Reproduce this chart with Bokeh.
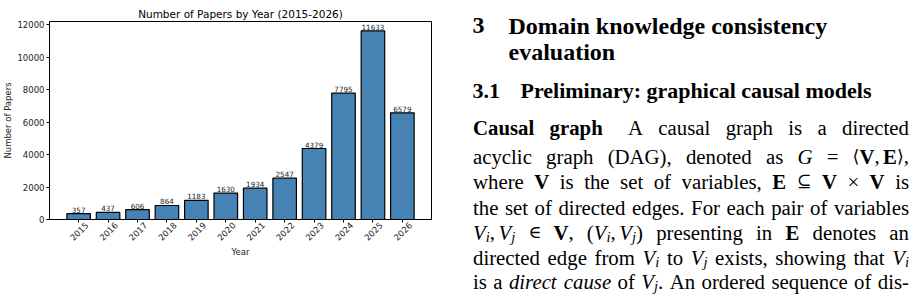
from math import pi
from bokeh.plotting import figure
from bokeh.models import Range1d, FixedTicker, ColumnDataSource, LabelSet, LinearAxis
from bokeh.layouts import row
from bokeh.core.properties import value
from bokeh.embed import file_html
from bokeh.resources import INLINE

# ---------------- data ----------------
years = [2015, 2016, 2017, 2018, 2019, 2020, 2021, 2022, 2023, 2024, 2025, 2026]
papers = [357, 437, 606, 864, 1183, 1630, 1934, 2547, 4379, 7795, 11633, 6579]
y_ticks = [0, 2000, 4000, 6000, 8000, 10000, 12000]
chart_title = "Number of Papers by Year (2015-2026)"
x_label = "Year"
y_label = "Number of Papers"

# text of the paper page beside the chart
section_num = "3"
section_lines = ["Domain knowledge consistency", "evaluation"]
subsection_num = "3.1"
subsection_title = "Preliminary: graphical causal models"
body_lines = [
    [[("Causal", "b")], [("graph", "b")], "QUAD", "A causal graph is a directed"],
    ["acyclic graph (DAG), denoted as", [("G", "i")], [("=", "n")],
     [("⟨", "m"), ("V", "b"), (",", "n"), ("E", "b", 3.5), ("⟩", "m"), (",", "n")]],
    ["where", [("V", "b")], "is the set of variables,", [("E", "b")], [("⊆", "m")],
     [("V", "b")], [("×", "n")], [("V", "b")], "is"],
    ["the set of directed edges. For each pair of variables"],
    [[("V", "i"), ("i", "s"), (",", "n"), ("V", "i", 3.5), ("j", "s")], [("∈", "m")],
     [("V", "b"), (",", "n")],
     [("(", "n"), ("V", "i"), ("i", "s"), (",", "n"), ("V", "i", 3.5), ("j", "s"), (")", "n")],
     "presenting in", [("E", "b")], "denotes an"],
    ["directed edge from", [("V", "i"), ("i", "s")], "to", [("V", "i"), ("j", "s")],
     "exists, showing that", [("V", "i"), ("i", "s")]],
    ["is a", [("direct", "i")], [("cause", "i")], "of", [("V", "i"), ("j", "s"), (".", "n")],
     "An ordered sequence of dis-"],
]

# ---------------- chart ----------------
src = ColumnDataSource(dict(year=years, papers=papers,
                            label=[str(v) for v in papers]))

x_start, x_end = min(years) - 0.99, max(years) + 0.99
p = figure(width=455, height=295, output_backend="svg", toolbar_location=None,
           x_range=Range1d(x_start, x_end),
           y_range=Range1d(0, max(papers) * 1.05),
           min_border_left=49, min_border_right=24, min_border_top=21, min_border_bottom=76,
           title=chart_title)
p.frame_align = False
p.background_fill_color = "white"
p.border_fill_color = "white"
p.outline_line_color = "black"
p.outline_line_width = 1
p.xgrid.visible = False
p.ygrid.visible = False

p.title.align = "center"
p.title.text_font = "DejaVu Sans"
p.title.text_font_size = "10.5px"
p.title.text_font_style = "normal"
p.title.text_color = "black"
p.title.standoff = 4

p.vbar(x="year", top="papers", width=0.8, source=src,
       fill_color="#4682B4", line_color="black", line_width=1.2)

p.add_layout(LabelSet(x="year", y="papers", text="label", source=src,
                      text_align="center", text_baseline="bottom", y_offset=1,
                      text_font=value("DejaVu Sans"), text_font_size=value("7.2px"),
                      text_color="#222222"))


def style_axis(ax):
    ax.axis_line_color = "black"
    ax.major_tick_line_color = "black"
    ax.minor_tick_line_color = None
    ax.major_tick_in = 0
    ax.major_tick_out = 3
    ax.major_label_text_font = "DejaVu Sans"
    ax.major_label_text_font_size = "8.5px"
    ax.major_label_text_color = "#222222"
    ax.axis_label_text_font = "DejaVu Sans"
    ax.axis_label_text_font_size = "8.5px"
    ax.axis_label_text_font_style = "normal"
    ax.axis_label_text_color = "#222222"


for ax in (p.xaxis[0], p.yaxis[0]):
    style_axis(ax)

p.yaxis.ticker = FixedTicker(ticks=y_ticks)
p.yaxis.major_label_standoff = 2
p.yaxis.axis_label = y_label
p.yaxis.axis_label_standoff = 1

# tick marks on the main x axis (labels drawn by a second, label-only axis)
p.xaxis.ticker = FixedTicker(ticks=years)
p.xaxis.major_label_overrides = {y: "" for y in years}
p.xaxis.major_label_standoff = 0

shift = 0.27  # centre the rotated labels under their ticks
p.extra_x_ranges = {"lab": Range1d(x_start - shift, x_end - shift)}
lab_axis = LinearAxis(x_range_name="lab", ticker=FixedTicker(ticks=years))
style_axis(lab_axis)
lab_axis.axis_line_color = None
lab_axis.major_tick_line_color = None
lab_axis.major_tick_out = 0
lab_axis.major_label_orientation = pi / 4
lab_axis.major_label_standoff = 1
lab_axis.axis_label = x_label
lab_axis.axis_label_standoff = 0
p.add_layout(lab_axis, "below")

# ---------------- text page ----------------
q = figure(width=462, height=295, output_backend="svg", toolbar_location=None,
           x_range=Range1d(455, 917), y_range=Range1d(295, 0),
           x_axis_type=None, y_axis_type=None, min_border=0)
q.frame_align = False
q.grid.visible = False
q.outline_line_color = None
q.background_fill_color = "white"
q.border_fill_color = "white"

BODY = 20.8
STYLES = {
    "n": ("Liberation Serif", "normal", BODY, 0),
    "b": ("Liberation Serif", "bold", BODY, 0),
    "i": ("Liberation Serif", "italic", BODY, 0),
    "s": ("Liberation Serif", "italic", 14.6, 4.5),
    "m": ("DejaVu Serif", "normal", 17.5, 0),
}
REG = {' ': 250, 'a': 444, 'b': 500, 'c': 444, 'd': 500, 'e': 444, 'f': 333, 'g': 500, 'h': 500,
       'i': 278, 'j': 278, 'k': 500, 'l': 278, 'm': 778, 'n': 500, 'o': 500, 'p': 500, 'q': 500,
       'r': 333, 's': 389, 't': 278, 'u': 500, 'v': 500, 'w': 722, 'x': 500, 'y': 500, 'z': 444,
       'A': 722, 'C': 667, 'D': 722, 'E': 611, 'F': 556, 'G': 722, 'V': 722, '(': 333, ')': 333,
       ',': 250, '.': 250, '-': 333, '=': 564, ':': 278, '×': 564}
BOLD = {' ': 250, 'a': 500, 'b': 556, 'c': 444, 'd': 556, 'e': 444, 'f': 333, 'g': 500, 'h': 556,
        'i': 278, 'k': 556, 'l': 278, 'm': 833, 'n': 556, 'o': 500, 'p': 556, 'r': 444, 's': 389,
        't': 333, 'u': 556, 'v': 500, 'w': 722, 'y': 500, 'C': 722, 'D': 722, 'E': 667, 'P': 611,
        'V': 722, ':': 333, '.': 250, '1': 500, '3': 500}
ITAL = {' ': 250, 'a': 500, 'c': 444, 'd': 500, 'e': 444, 'i': 278, 'j': 278, 'r': 389, 's': 389,
        't': 278, 'u': 500, 'G': 722, 'V': 611}
SYM = {'∈': 670, '⊆': 840, '⟨': 390, '⟩': 390}
TABLES = {"n": REG, "b": BOLD, "i": ITAL, "s": ITAL, "m": SYM}


def run_width(text, style):
    size = STYLES[style][2]
    tab = TABLES[style]
    return sum(tab.get(ch, 500) for ch in text) / 1000.0 * size


groups = {}


def put(x, y, text, style):
    font, fstyle, size, dy = STYLES[style]
    key = (font, fstyle, size)
    g = groups.setdefault(key, dict(x=[], y=[], t=[]))
    g["x"].append(x)
    g["y"].append(y + dy)
    g["t"].append(text)


def words_of(line):
    out = []
    for item in line:
        if item == "QUAD":
            out.append("QUAD")
        elif isinstance(item, str):
            for w in item.split():
                out.append([(w, "n")])
        else:
            out.append(item)
    return out


LEFT, RIGHT = 472.5, 908.5
baselines = [127, 155.5, 180.5, 206.5, 231.5, 256.5, 281]
for line, base in zip(body_lines, baselines):
    items = words_of(line)
    words = [w for w in items if w != "QUAD"]
    nquad = len(items) - len(words)
    widths = []
    for w in words:
        wd = 0
        for r in w:
            wd += (r[2] if len(r) > 2 else 0) + run_width(r[0], r[1])
        widths.append(wd)
    gap = (RIGHT - LEFT - sum(widths) - nquad * 10) / max(1, len(words) - 1)
    x = LEFT
    wi = 0
    for it in items:
        if it == "QUAD":
            x += 10
            continue
        cx = x
        for r in it:
            cx += (r[2] if len(r) > 2 else 0)
            put(cx, base, r[0], r[1])
            cx += run_width(r[0], r[1])
        x += widths[wi] + gap
        wi += 1

# headings
q.text(x=[472], y=[25], text=[section_num], text_font=value("Liberation Serif"),
       text_font_style="bold", text_font_size=value("24px"), text_baseline="alphabetic",
       text_color="black")
q.text(x=[508, 508], y=[25, 51], text=section_lines, text_font=value("Liberation Serif"),
       text_font_style="bold", text_font_size=value("24px"), text_baseline="alphabetic",
       text_color="black")
q.text(x=[472, 520], y=[90, 90], text=[subsection_num, subsection_title],
       text_font=value("Liberation Serif"), text_font_style="bold",
       text_font_size=value("22px"), text_baseline="alphabetic", text_color="black")

for (font, fstyle, size), g in groups.items():
    q.text(x=g["x"], y=g["y"], text=g["t"], text_font=value(font), text_font_style=fstyle,
           text_font_size=value(f"{size}px"), text_baseline="alphabetic",
           text_align="left", text_color="black")

layout = row(p, q)
open("out.html", "w").write(file_html(layout, INLINE))
